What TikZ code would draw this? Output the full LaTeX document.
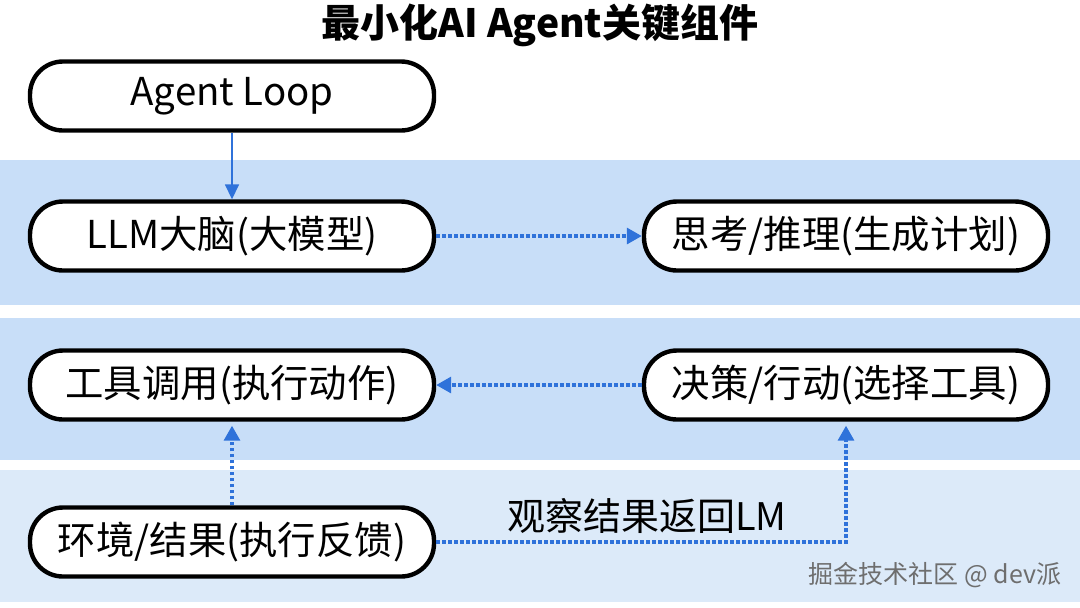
\documentclass[tikz,border=0pt]{standalone}
\usepackage{fontspec}
\setmainfont{Noto Sans CJK SC}
\usetikzlibrary{arrows.meta}
\definecolor{franja}{HTML}{C8DEF8}
\definecolor{franjaclara}{HTML}{DCEAF9}
\definecolor{flecha}{HTML}{2F72DA}
\definecolor{marca}{HTML}{6E6E6E}

\begin{document}
\begin{tikzpicture}[x=0.5pt,y=-0.5pt,
   caja/.style={draw=black,line width=2.2pt,fill=white,rounded corners=16.5pt,
     minimum width=202pt,minimum height=34.5pt,inner sep=0pt,font=\fontsize{19.2}{23}\selectfont},
   titulo/.style={font=\bfseries\fontsize{19.5}{23}\selectfont},
   etiqueta/.style={font=\fontsize{19}{23}\selectfont},
   flujo/.style={draw=flecha,line width=1.6pt,dash pattern=on 1.7pt off 1.3pt,
     -{Triangle[length=7.5pt,width=8pt]}},
   directo/.style={draw=flecha,line width=0.8pt,-{Triangle[length=7.5pt,width=7pt]}}]
  \useasboundingbox (0,0) rectangle (1080,607);
  \fill[white] (0,0) rectangle (1080,607);
  % franjas de fondo
  \fill[franja] (0,160) rectangle (1080,305);
  \fill[franja] (0,318) rectangle (1080,460);
  \fill[franjaclara] (0,470) rectangle (1080,602);
  % --- titulo ---
  \node[titulo] (titulo) at (540,25) {最小化AI Agent关键组件};
  % --- cajas ---
  \node[caja] (loop) at (232,96)  {Agent Loop};
  \node[caja] (llm)  at (232,236) {LLM大脑(大模型)};
  \node[caja] (pens) at (846,236) {思考/推理(生成计划)};
  \node[caja] (herr) at (232,385) {工具调用(执行动作)};
  \node[caja] (dec)  at (846,385) {决策/行动(选择工具)};
  \node[caja] (env)  at (232,542) {环境/结果(执行反馈)};
  % --- conexiones ---
  \draw[directo] (loop.south) -- (llm.north);
  \draw[flujo] (llm.east) -- (pens.west);
  \draw[flujo] (dec.west) -- (herr.east);
  \draw[flujo,shorten >=2pt] (env.north) -- (herr.south);
  \draw[flujo,shorten >=2pt] (env.east) -| (dec.south);
  \node[etiqueta] (obs) at (647,516) {观察结果返回LM};
  % --- marca de agua ---
  \node[text=marca,font=\fontsize{12.5}{15}\selectfont] (marca) at (935,575) {掘金技术社区 @ dev派};
\end{tikzpicture}
\end{document}
